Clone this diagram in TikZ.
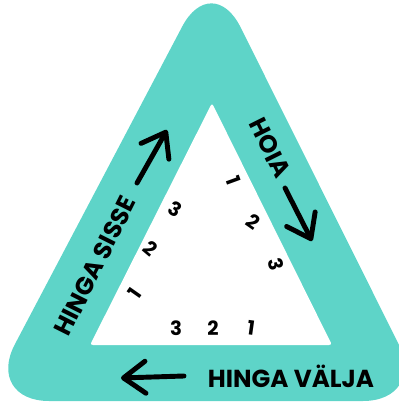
\documentclass[tikz,border=0pt]{standalone}
\usepackage{fontspec}
\newfontfamily\labelfont{Poppins}
\usetikzlibrary{arrows.meta}
\definecolor{breathteal}{RGB}{94,212,200}

\begin{document}
\begin{tikzpicture}[x=0.025cm, y=-0.025cm,
  sidelabel/.style={font=\labelfont\bfseries\fontsize{17.5}{17.5}\selectfont, inner sep=0pt},
  countnum/.style={font=\labelfont\bfseries\fontsize{14}{14}\selectfont, inner sep=0pt},
  breatharrow/.style={line width=3.5pt, line cap=round, line join=round,
    -{Straight Barb[length=5.5mm, width=8mm, round]}}]
  % 画布（像素坐标 399 x 403，y 向下）
  \useasboundingbox (0,0) rectangle (399,403);

  % 1. 外三角形（圆角，青色）
  \fill[breathteal, rounded corners=1.6cm]
    (206,401) -- (-15,401) -- (212,-30) -- (427,401) -- cycle;

  % 2. 内三角形（白色）
  \fill[white, rounded corners=2pt] (90,345) -- (212,103) -- (332,345) -- cycle;

  % 3. 三条边上的文字（沿边旋转 63.4°）
  \node[sidelabel, rotate=63.4] (inLabel) at (95,266) {HINGA SISSE};
  \node[sidelabel, rotate=-63.4] (holdLabel) at (270,148) {HOIA};
  \node[sidelabel] (outLabel) at (291,376) {HINGA VÄLJA};

  % 4. 箭头（吸气向上，屏气向下，呼气向左）
  \coordinate (inTail) at (137,183);
  \coordinate (inTip) at (167,130);
  \coordinate (holdTail) at (285,188);
  \coordinate (holdTip) at (312,241);
  \coordinate (outTail) at (184,376);
  \coordinate (outTip) at (121,378);
  \draw[breatharrow] (inTail) -- (inTip);
  \draw[breatharrow] (holdTail) -- (holdTip);
  \draw[breatharrow] (outTail) -- (outTip);

  % 5. 计数 1 2 3
  % 左边：吸气
  \node[countnum, rotate=55] (in1) at (135,293) {1};
  \node[countnum, rotate=-40] (in2) at (151,248) {2};
  \node[countnum, rotate=-30] (in3) at (175,209) {3};
  % 右边：屏气
  \node[countnum, rotate=-70] (hold1) at (234,181) {1};
  \node[countnum, rotate=-35] (hold2) at (253,222) {2};
  \node[countnum, rotate=-75] (hold3) at (276,264) {3};
  % 底边：呼气
  \node[countnum] (out3) at (176,328) {3};
  \node[countnum] (out2) at (213,328) {2};
  \node[countnum, rotate=-8] (out1) at (251,328) {1};

\end{tikzpicture}
\end{document}
